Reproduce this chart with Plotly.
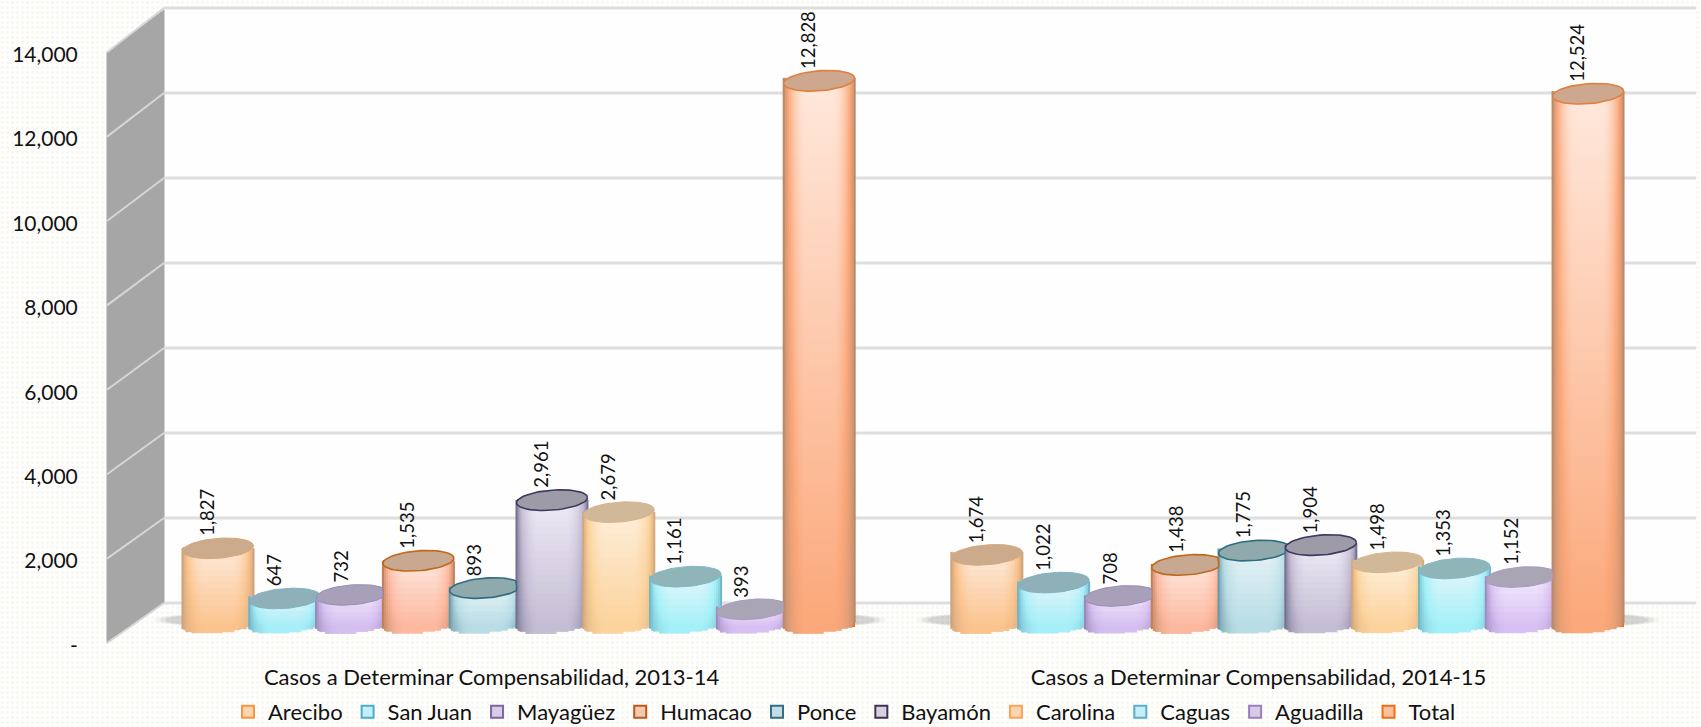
import numpy as np
import plotly.graph_objects as go

# ---------- data ----------
series_names = ["Arecibo", "San Juan", "Mayagüez", "Humacao", "Ponce",
                "Bayamón", "Carolina", "Caguas", "Aguadilla", "Total"]
values_2013_14 = [1827, 647, 732, 1535, 893, 2961, 2679, 1161, 393, 12828]
values_2014_15 = [1674, 1022, 708, 1438, 1775, 1904, 1498, 1353, 1152, 12524]
group_labels = ["Casos a Determinar Compensabilidad, 2013-14",
                "Casos a Determinar Compensabilidad, 2014-15"]
y_ticks = [0, 2000, 4000, 6000, 8000, 10000, 12000, 14000]
y_tick_labels = ["-", "2,000", "4,000", "6,000", "8,000", "10,000", "12,000", "14,000"]

# ---------- styles ----------
swatch_fill = ["#fcd5b0", "#c6eef8", "#d8cbe8", "#f5c8b0", "#c5dce5",
               "#d5d2e0", "#fcd5b0", "#c6eef8", "#d8cbe8", "#fcc0a0"]
swatch_line = ["#f79646", "#4bacc6", "#8064a2", "#c0581a", "#2f6f85",
               "#403152", "#f9a45c", "#5bb0c8", "#9b7fc0", "#f06d10"]
edge_col = ["#cfa27a", "#6fb2c8", "#9a88b8", "#c0805a", "#6b98a5",
            "#77718f", "#d4a878", "#6fb8c8", "#a08cc0", "#b98a6c"]
bottom_col = ["#fbc48f", "#a6eef8", "#d5bff0", "#fdb9a0", "#b8dde6",
              "#c4bdd4", "#fcd39c", "#a4f0f8", "#d7c0f2", "#fba87a"]
top_col = ["#fde9d8", "#e3f5f9", "#f0e6fa", "#fde6dc", "#e5f2f5",
           "#eeeaf5", "#fdeed9", "#e2f6fa", "#f3eafc", "#ffe8dc"]
cap_fill = ["#cbab8c", "#8fb0b8", "#a8a0b8", "#c8a890", "#8fa9ad",
            "#9d9ba8", "#d0b898", "#8fb5b9", "#aaa5b5", "#cda88e"]
cap_line = ["#d8a878", "#7fb4c4", "#9a8cb8", "#c06818", "#2f6e80",
            "#40385f", "#d8b48c", "#7fbac8", "#a898c4", "#e08040"]
cap_width = [1.0, 1.0, 1.0, 1.6, 1.6, 1.6, 1.0, 1.0, 1.0, 1.6]

W, H = 1701, 727
FONT = "Lato, Carlito, Calibri, sans-serif"
PX_PER_SLOT = 66.8
SLOT0_PX = 218.0
GROUP2_OFFSET = 11.51
K = 0.0425           # px per value unit
ZERO_PX = 626.0      # pixel of value 0 at the bars' plane
AX_BOTTOM_PX = 662.0
AX_LEFT_PX = 107.0
HALF_W = 35.5 / PX_PER_SLOT
CAP_B = 10.0 / K     # minor half axis of the cylinder ellipse
CAP_T = 2.6 / K      # tilt of the ellipse (right side up)
BASE_B = 7.2 / K     # minor half axis of the cylinder's lower arc

slots = np.arange(len(series_names), dtype=float)
slots_by_group = [slots, slots + GROUP2_OFFSET]
values_by_group = [values_2013_14, values_2014_15]

x_range = [(AX_LEFT_PX - SLOT0_PX) / PX_PER_SLOT, (W - SLOT0_PX) / PX_PER_SLOT]
y_range = [(ZERO_PX - AX_BOTTOM_PX) / K, ZERO_PX / K]

fig = go.Figure()

# ---------- background axes (pixel-like, whole page) ----------
def bg(**kw):
    fig.add_trace(go.Scatter(xaxis="x", yaxis="y", showlegend=False,
                             hoverinfo="skip", **kw))

fig.add_trace(go.Bar(x=[W / 2], y=[H], width=[W], xaxis="x", yaxis="y",
                     showlegend=False, hoverinfo="skip",
                     marker=dict(color="#ffffff", line_width=0,
                                 pattern=dict(shape=".", fgcolor="#f1f0e2", bgcolor="#ffffff",
                                              size=5, solidity=0.35))))
# back wall
fig.add_trace(go.Bar(x=[(164 + 1696) / 2], y=[603 - 8], base=[8], width=[1696 - 164],
                     xaxis="x", yaxis="y", showlegend=False, hoverinfo="skip",
                     marker=dict(color="#fefefe", line_width=0)))
# side wall
bg(x=[107, 164, 164, 107, 107], y=[52, 10, 603, 643, 52], mode="lines",
   fill="toself", fillcolor="#a6a6a6", line=dict(color="#a6a6a6", width=1))

# grid: back-wall lines and slanted side-wall lines
gx, gy, sx, sy = [], [], [], []
for v in y_ticks:
    back = 603 - K * v
    front = 643 - 0.0422 * v
    gx += [164, 1696, None]
    gy += [back, back, None]
    sx += [107, 164, None]
    sy += [front, back, None]
bg(x=gx, y=gy, mode="lines", line=dict(color="#dedede", width=3))
bg(x=sx, y=sy, mode="lines", line=dict(color="#d6d6d6", width=2))

# soft floor shadows of the two groups
t = np.linspace(0, 2 * np.pi, 80)
for x0, x1 in [(154, 886), (916, 1660)]:
    for shrink, alpha in [(1.0, 0.06), (0.985, 0.09), (0.97, 0.12)]:
        cx, a = (x0 + x1) / 2, (x1 - x0) / 2 * shrink
        ex = cx + a * np.sign(np.cos(t)) * np.abs(np.cos(t)) ** 0.25
        ey = 620 + 8 * shrink * np.sin(t)
        bg(x=ex, y=ey, mode="lines", fill="toself",
           fillcolor=f"rgba(90,90,90,{alpha})", line=dict(width=0))

# ---------- bars (main axes) ----------
for i, name in enumerate(series_names):
    fig.add_trace(go.Bar(
        x=[slots_by_group[0][i], slots_by_group[1][i]],
        y=[values_2013_14[i], values_2014_15[i]],
        width=2 * HALF_W * 0.97, name=name, xaxis="x2", yaxis="y2",
        marker=dict(color=swatch_fill[i], line=dict(color=swatch_line[i], width=2)),
        hovertemplate=name + ": %{y:,}<extra></extra>"))

# ---------- cylinder shading (overlay axes) ----------
u = np.linspace(-1, 1, 36)
shade = np.clip((1 - np.abs(u) ** 3.2) ** 0.75 * 1.05, 0, 1)
for g in range(2):
    for i in range(len(series_names)):
        v = values_by_group[g][i]
        low = np.arange(-BASE_B - CAP_T, CAP_B + CAP_T, 1.5 / K)
        high = np.arange(low[-1] + 6 / K, v, 6 / K) if v > low[-1] else np.array([])
        ys = np.concatenate([low[low < v], high, [v]])
        h = np.clip(ys / max(v, 1), 0, 1)
        z = np.outer(0.5 + 0.5 * h, shade)
        arc = -BASE_B * np.sqrt(np.clip(1 - u ** 2, 0, 1)) + CAP_T * u
        z[ys[:, None] < arc[None, :]] = np.nan
        fig.add_trace(go.Heatmap(
            x=slots_by_group[g][i] + u * HALF_W, y=ys, z=z, zmin=0, zmax=1,
            xaxis="x3", yaxis="y3", showscale=False, hoverinfo="skip",
            colorscale=[[0, edge_col[i]], [0.5, bottom_col[i]], [1, top_col[i]]]))

# ---------- cylinder caps ----------
t = np.linspace(0, 2 * np.pi, 60)
for g in range(2):
    for i in range(len(series_names)):
        v = values_by_group[g][i]
        cx = slots_by_group[g][i] + HALF_W * np.cos(t)
        cy = v + CAP_B * np.sin(t) + CAP_T * np.cos(t)
        if i + 1 < len(series_names):
            # the next cylinder stands in front of this cap
            nxt = values_by_group[g][i + 1]
            nxt_left = slots_by_group[g][i + 1] - HALF_W
            cx = np.where(cy < nxt, np.minimum(cx, nxt_left), cx)
        fig.add_trace(go.Scatter(
            x=cx, y=cy,
            mode="lines", fill="toself", fillcolor=cap_fill[i],
            line=dict(color=cap_line[i], width=cap_width[i]),
            xaxis="x3", yaxis="y3", showlegend=False, hoverinfo="skip"))

# ---------- value labels ----------
annotations = []
for g in range(2):
    for i in range(len(series_names)):
        annotations.append(dict(
            x=slots_by_group[g][i], y=values_by_group[g][i], xref="x3", yref="y3",
            text=f"{values_by_group[g][i]:,}", textangle=-90, showarrow=False,
            xanchor="center", yanchor="bottom", xshift=-11, yshift=10,
            font=dict(family=FONT, size=18.5, color="#111111")))

group_ticks = [slots_by_group[0].mean() - 27 / PX_PER_SLOT,
               slots_by_group[1].mean() - 29 / PX_PER_SLOT]
tick_positions = [(ZERO_PX - 645.5 + 0.0422 * v) / K for v in y_ticks]

hidden = dict(visible=False, fixedrange=True)
fig.update_layout(
    width=W, height=H, autosize=False,
    margin=dict(l=0, r=0, t=0, b=0),
    paper_bgcolor="#ffffff", plot_bgcolor="rgba(0,0,0,0)",
    barmode="overlay", bargap=0,
    showlegend=True,
    legend=dict(orientation="h", x=228 / W, xanchor="left", y=0, yanchor="bottom",
                bgcolor="rgba(0,0,0,0)", font=dict(family=FONT, size=22, color="#111111"),
                traceorder="normal", itemwidth=30),
    font=dict(family=FONT, color="#111111"),
    annotations=annotations,
    xaxis=dict(hidden, domain=[0, 1], range=[0, W]),
    yaxis=dict(hidden, domain=[0, 1], range=[H, 0]),
    xaxis2=dict(domain=[AX_LEFT_PX / W, 1], range=x_range, anchor="y2",
                tickmode="array", tickvals=group_ticks, ticktext=group_labels,
                showgrid=False, zeroline=False, showline=False, ticks="", fixedrange=True,
                tickfont=dict(family=FONT, size=22, color="#111111")),
    yaxis2=dict(domain=[(H - AX_BOTTOM_PX) / H, 1], range=y_range, anchor="x2",
                tickmode="array", tickvals=tick_positions, ticktext=y_tick_labels,
                showgrid=False, zeroline=False, showline=False, fixedrange=True,
                ticks="outside", ticklen=24, tickcolor="rgba(0,0,0,0)",
                tickfont=dict(family=FONT, size=21, color="#111111")),
    xaxis3=dict(hidden, domain=[AX_LEFT_PX / W, 1], range=x_range, overlaying="x2", anchor="y3"),
    yaxis3=dict(hidden, domain=[(H - AX_BOTTOM_PX) / H, 1], range=y_range, overlaying="y2", anchor="x3"),
)

fig.write_html("out.html", config={"displayModeBar": False},
               post_script=("document.body.style.margin='0';"
                            "document.documentElement.style.overflow='hidden';"
                            "var l=document.querySelector('.legend');"
                            "if(l){var m=l.transform.baseVal.consolidate().matrix;"
                            "l.setAttribute('transform','translate('+m.e+','+(m.f+6)+')');}"))
